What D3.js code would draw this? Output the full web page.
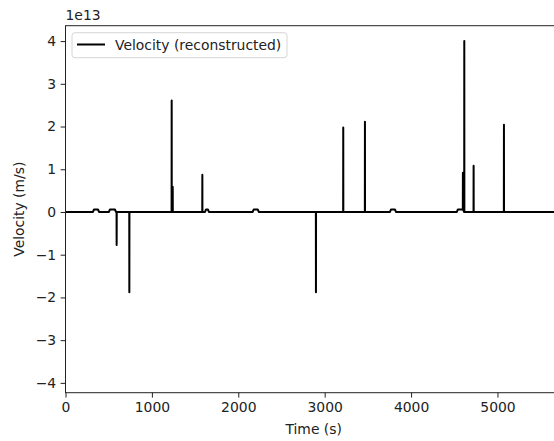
<!DOCTYPE html>
<html>
<head>
<meta charset="utf-8">
<script src="https://cdn.jsdelivr.net/npm/d3@7"></script>
<style>
  body { margin: 0; background: #fff; }
  svg { display: block; font-family: "DejaVu Sans", sans-serif; }
</style>
</head>
<body>
<div id="chart"></div>
<script>
// time samples (s) and reconstructed velocity (units of 1e13 m/s)
const timeS = [0, 318, 330, 376, 388, 503, 515, 572, 584, 591, 592, 593,
  738, 739, 740, 1228, 1229, 1230, 1240, 1241, 1242, 1583, 1584, 1585,
  1615, 1627, 1648, 1660, 2167, 2179, 2225, 2237, 2898, 2899, 2900,
  3214, 3215, 3216, 3465, 3466, 3467, 3756, 3768, 3813, 3825,
  4530, 4542, 4588, 4599, 4600, 4601, 4615, 4616, 4617,
  4723, 4724, 4725, 5074, 5075, 5076, 5800];
const velocity = [0, 0, 0.06, 0.06, 0, 0, 0.06, 0.06, 0, 0, -0.77, 0,
  0, -1.88, 0, 0, 2.61, 0, 0, 0.59, 0, 0, 0.87, 0,
  0, 0.06, 0.06, 0, 0, 0.06, 0.06, 0, 0, -1.88, 0,
  0, 1.98, 0, 0, 2.11, 0, 0, 0.06, 0.06, 0,
  0, 0.06, 0.06, 0.06, 0.92, 0.06, 0, 4.0, 0,
  0, 1.08, 0, 0, 2.04, 0, 0];
const xTicks = [0, 1000, 2000, 3000, 4000, 5000];
const yTicks = [-4, -3, -2, -1, 0, 1, 2, 3, 4];

const W = 554, H = 441;
const mLeft = 65.5, mTop = 25.7, mRight = 562, mBottom = 392.7;
const FS = '13.9px';

const svg = d3.select('#chart').append('svg')
  .attr('width', W).attr('height', H);

const x = d3.scaleLinear().domain([0, 5747]).range([mLeft, mRight]);
const y = d3.scaleLinear().domain([-4.23, 4.36]).range([mBottom, mTop]);

// data line
svg.append('path')
  .datum(d3.zip(timeS, velocity))
  .attr('d', d3.line().x(d => x(d[0])).y(d => y(d[1])))
  .attr('fill', 'none')
  .attr('stroke', '#000')
  .attr('stroke-width', 2)
  .attr('stroke-linejoin', 'round');

// axes
const fmt = d => String(d).replace('-', '\u2212');
const xAxis = svg.append('g')
  .attr('transform', `translate(0,${mBottom})`)
  .call(d3.axisBottom(x).tickValues(xTicks).tickSize(4.9).tickPadding(4.5).tickFormat(fmt));
const yAxis = svg.append('g')
  .attr('transform', `translate(${mLeft},0)`)
  .call(d3.axisLeft(y).tickValues(yTicks).tickSize(4.9).tickPadding(4.5).tickFormat(fmt));

[xAxis, yAxis].forEach(g => {
  g.selectAll('text').attr('font-size', FS).attr('fill', '#222')
    .attr('font-family', '"DejaVu Sans", sans-serif');
  g.selectAll('line').attr('stroke', '#222').attr('stroke-width', 1);
  g.select('.domain').remove();
});

// spines
svg.append('rect')
  .attr('x', mLeft).attr('y', mTop)
  .attr('width', mRight - mLeft).attr('height', mBottom - mTop)
  .attr('fill', 'none').attr('stroke', '#222').attr('stroke-width', 1);

// offset label
svg.append('text')
  .attr('x', mLeft).attr('y', 20)
  .attr('font-size', FS).attr('fill', '#222')
  .text('1e13');

// axis labels
svg.append('text')
  .attr('x', 313.7).attr('y', 434)
  .attr('text-anchor', 'middle')
  .attr('font-size', FS).attr('fill', '#222')
  .text('Time (s)');

svg.append('text')
  .attr('transform', `translate(24,${(mTop + mBottom) / 2}) rotate(-90)`)
  .attr('text-anchor', 'middle')
  .attr('font-size', FS).attr('fill', '#222')
  .text('Velocity (m/s)');

// legend
const legend = svg.append('g');
legend.append('rect')
  .attr('x', 72).attr('y', 32.7)
  .attr('width', 215).attr('height', 25)
  .attr('rx', 3)
  .attr('fill', '#fff').attr('fill-opacity', 0.8)
  .attr('stroke', '#d6d6d6').attr('stroke-width', 1);
legend.append('line')
  .attr('x1', 77).attr('x2', 105)
  .attr('y1', 44.5).attr('y2', 44.5)
  .attr('stroke', '#000').attr('stroke-width', 2);
legend.append('text')
  .attr('x', 115).attr('y', 49.8)
  .attr('font-size', FS).attr('fill', '#222')
  .text('Velocity (reconstructed)');
</script>
</body>
</html>
